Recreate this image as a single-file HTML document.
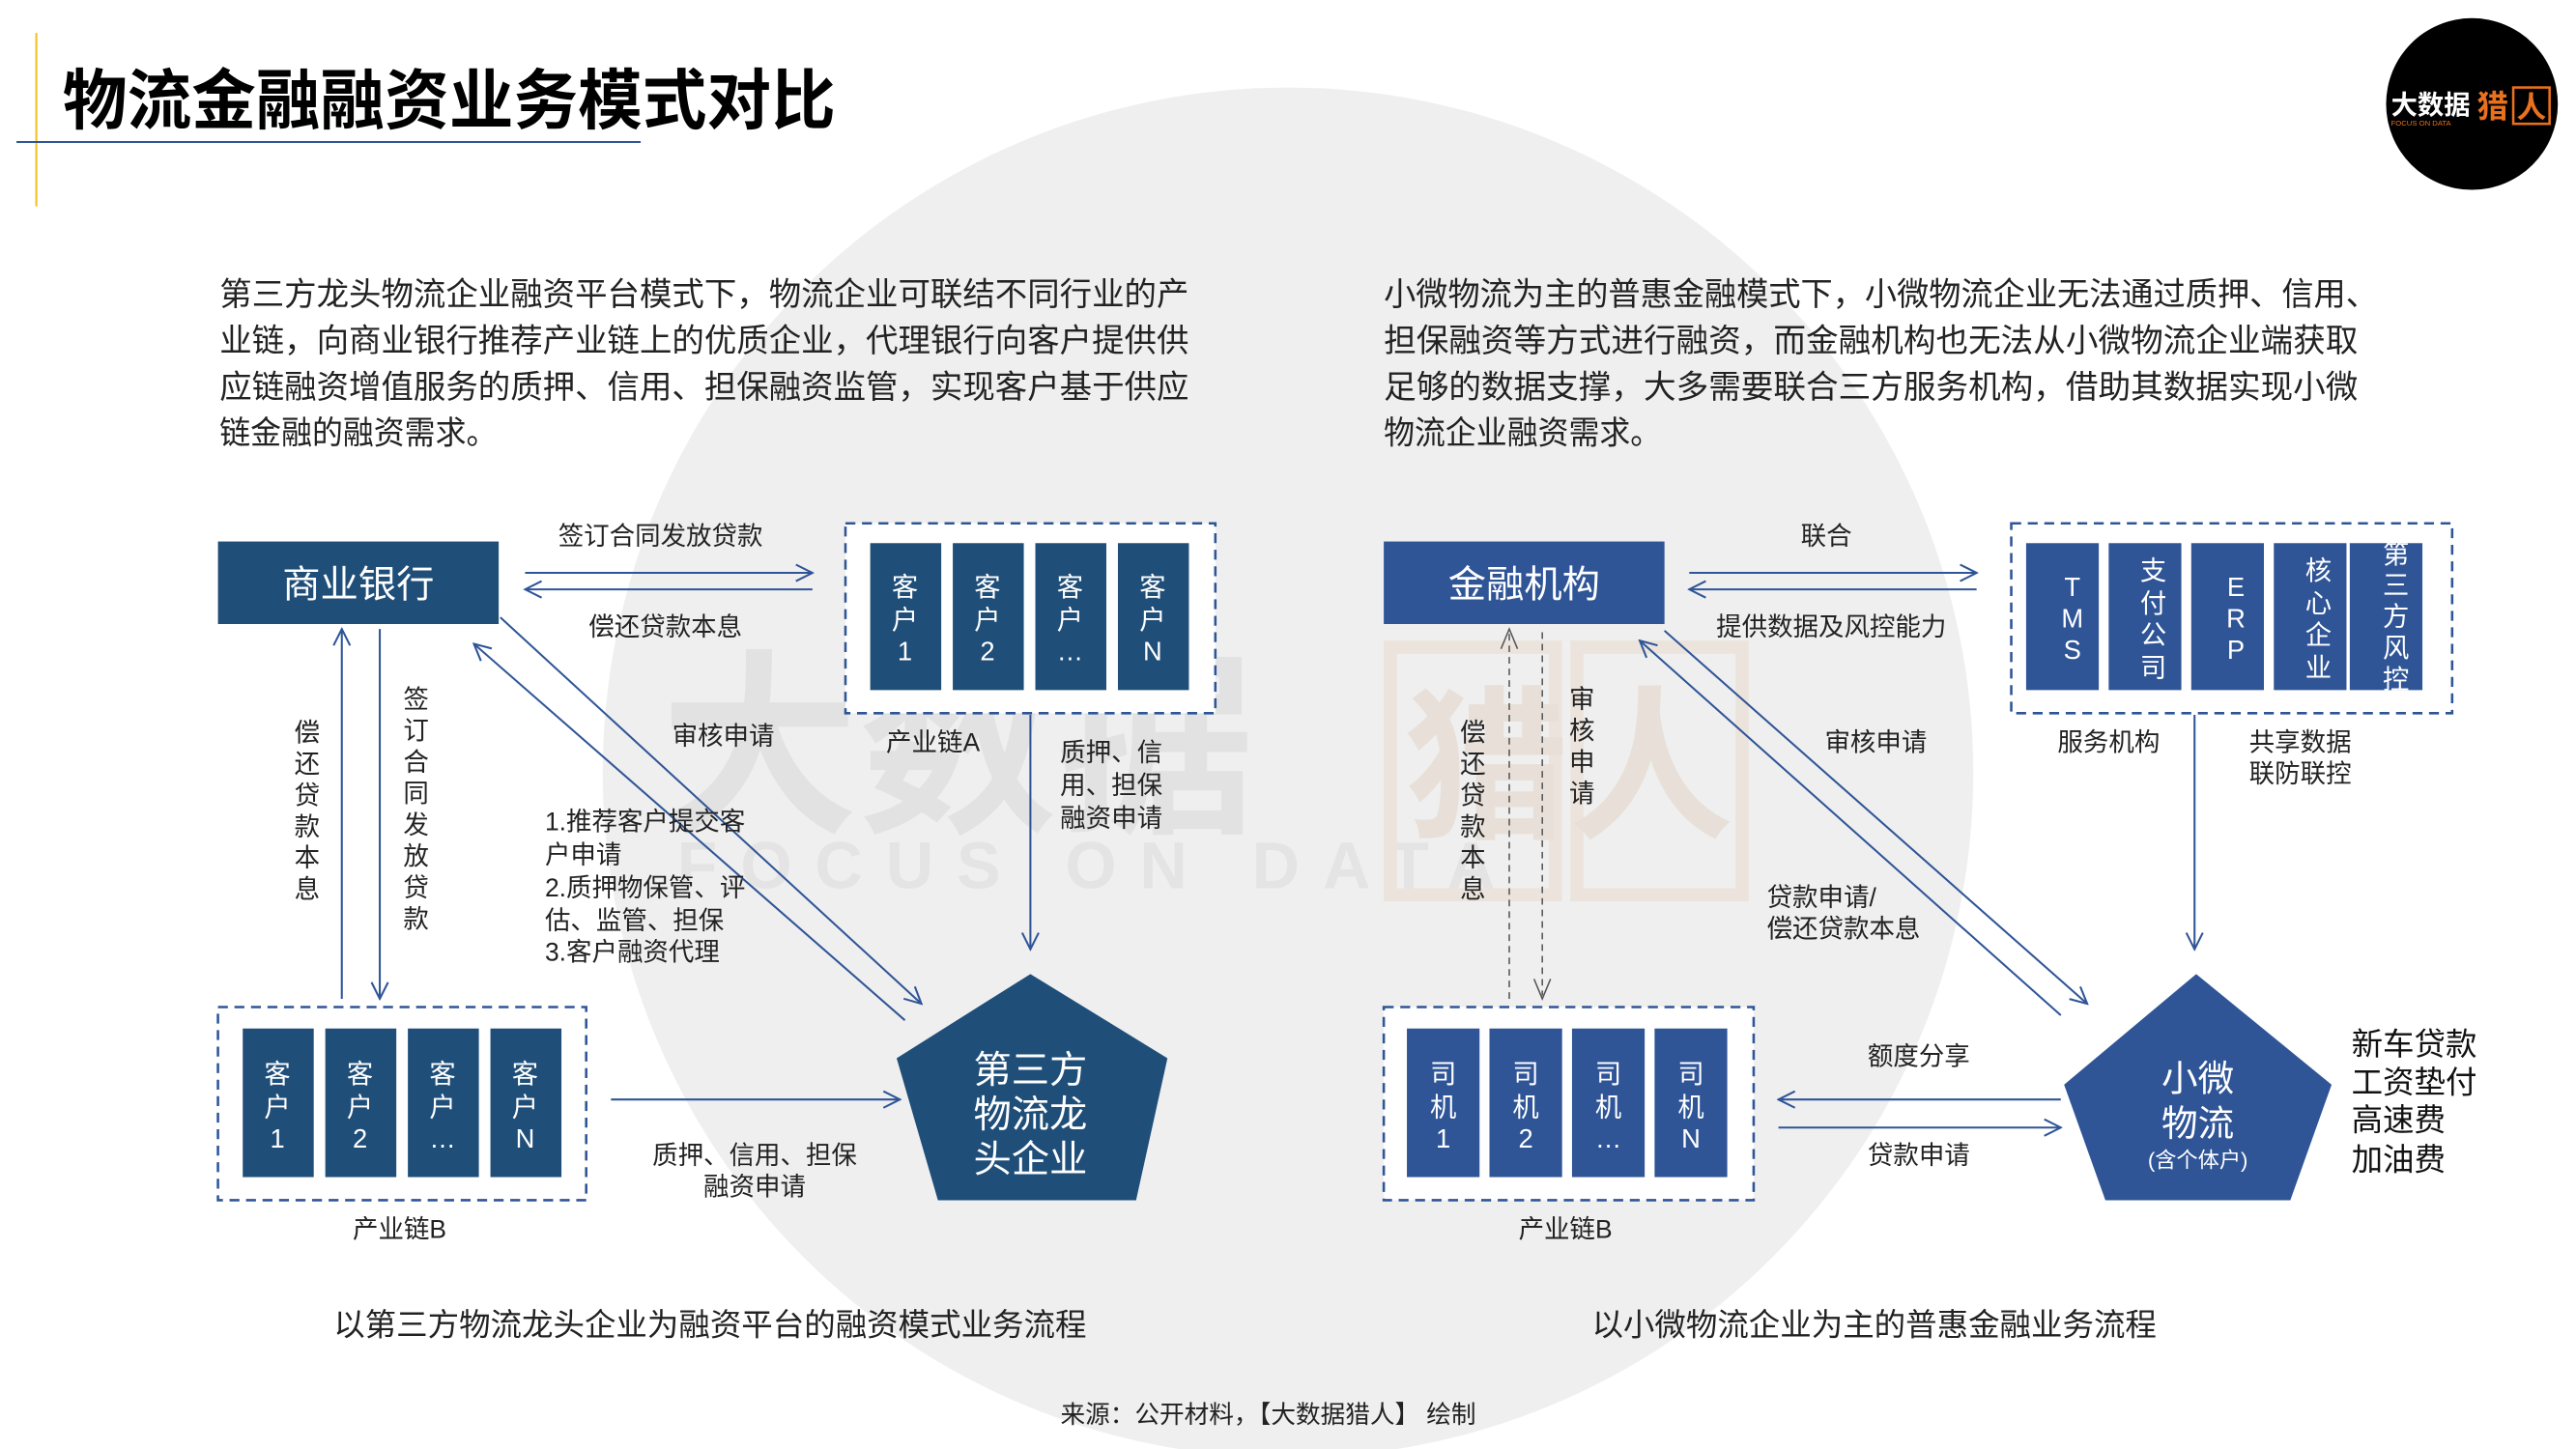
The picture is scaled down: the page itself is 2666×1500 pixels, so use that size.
<!DOCTYPE html>
<html><head><meta charset="utf-8"><style>
html,body{margin:0;padding:0;background:#fff;}
svg{display:block;}
text{font-family:"Liberation Sans","Noto Sans CJK SC",sans-serif;}
</style></head><body>
<svg width="2666" height="1500" viewBox="0 0 1560 877.7" preserveAspectRatio="none" xmlns="http://www.w3.org/2000/svg">
<defs>
<marker id="a" viewBox="0 0 12 12" refX="11" refY="6" markerWidth="12" markerHeight="12" markerUnits="userSpaceOnUse" orient="auto">
<path d="M1,1 L11,6 L1,11" fill="none" stroke="#2f5597" stroke-width="1.2"/></marker>
</defs>
<rect width="1560" height="878" fill="#fff"/>
<circle cx="780" cy="468" r="415" fill="#efefef"/>
<!-- watermark -->
<text x="400" y="495" font-size="120" font-weight="bold" fill="#e2e2e2">大数据</text>
<text x="410" y="538" font-size="40" font-weight="bold" fill="#e4e4e4" letter-spacing="14">FOCUS ON DATA</text>
<rect x="842" y="392" width="100" height="150" fill="none" stroke="#ece4dc" stroke-width="8"/>
<rect x="955" y="392" width="100" height="150" fill="none" stroke="#ece4dc" stroke-width="8"/>
<text x="850" y="500" font-size="100" font-weight="bold" fill="#e8e0d8">猎人</text>

<!-- title -->
<line x1="22" y1="20" x2="22" y2="125" stroke="#f0c020" stroke-width="1.2"/>
<line x1="10" y1="86" x2="388" y2="86" stroke="#2f5597" stroke-width="1.2"/>
<text x="38" y="75" font-size="40" font-weight="bold" fill="#000" textLength="468" lengthAdjust="spacingAndGlyphs">物流金融融资业务模式对比</text>

<!-- logo -->
<circle cx="1497" cy="63" r="52" fill="#000"/>
<text x="1448" y="69" font-size="16" font-weight="bold" fill="#fff">大数据</text>
<text x="1500" y="71" font-size="19" font-weight="bold" fill="#e8711e">猎</text>
<rect x="1522" y="53" width="22" height="22" fill="none" stroke="#e8711e" stroke-width="1.5"/>
<text x="1524" y="71" font-size="18" font-weight="bold" fill="#e8711e">人</text>
<text x="1448" y="76" font-size="4.5" fill="#e8711e">FOCUS ON DATA</text>

<!-- paragraphs -->
<g font-size="19.5" fill="#222">
<text x="133" y="185" textLength="587" lengthAdjust="spacingAndGlyphs">第三方龙头物流企业融资平台模式下，物流企业可联结不同行业的产</text>
<text x="133" y="213" textLength="587" lengthAdjust="spacingAndGlyphs">业链，向商业银行推荐产业链上的优质企业，代理银行向客户提供供</text>
<text x="133" y="241" textLength="587" lengthAdjust="spacingAndGlyphs">应链融资增值服务的质押、信用、担保融资监管，实现客户基于供应</text>
<text x="133" y="269" textLength="168" lengthAdjust="spacingAndGlyphs">链金融的融资需求。</text>
<text x="838" y="185" textLength="602" lengthAdjust="spacingAndGlyphs">小微物流为主的普惠金融模式下，小微物流企业无法通过质押、信用、</text>
<text x="838" y="213" textLength="590" lengthAdjust="spacingAndGlyphs">担保融资等方式进行融资，而金融机构也无法从小微物流企业端获取</text>
<text x="838" y="241" textLength="590" lengthAdjust="spacingAndGlyphs">足够的数据支撑，大多需要联合三方服务机构，借助其数据实现小微</text>
<text x="838" y="269" textLength="168" lengthAdjust="spacingAndGlyphs">物流企业融资需求。</text>
</g>

<!-- ===== LEFT DIAGRAM ===== -->
<rect x="132" y="328" width="170" height="50" fill="#1f4e79"/>
<text x="217" y="362" font-size="23" fill="#fff" text-anchor="middle">商业银行</text>
<g stroke="#2f5597" stroke-width="1.2" fill="none" marker-end="url(#a)">
<line x1="318" y1="347" x2="492" y2="347"/>
<line x1="492" y1="357" x2="318" y2="357"/>
<line x1="207" y1="605" x2="207" y2="381"/>
<line x1="230" y1="381" x2="230" y2="605"/>
<line x1="303" y1="374" x2="558" y2="608"/>
<line x1="548" y1="618" x2="287" y2="390"/>
<line x1="624" y1="433" x2="624" y2="575"/>
<line x1="370" y1="666" x2="545" y2="666"/>
</g>
<g font-size="15.5" fill="#222">
<text x="400" y="330" text-anchor="middle">签订合同发放贷款</text>
<text x="403" y="385" text-anchor="middle">偿还贷款本息</text>
<text x="438" y="451" text-anchor="middle">审核申请</text>
<text x="565" y="455" text-anchor="middle">产业链A</text>
<text x="642" y="461">质押、信</text>
<text x="642" y="481">用、担保</text>
<text x="642" y="501">融资申请</text>
<text x="330" y="503">1.推荐客户提交客</text>
<text x="330" y="523">户申请</text>
<text x="330" y="543">2.质押物保管、评</text>
<text x="330" y="563">估、监管、担保</text>
<text x="330" y="582">3.客户融资代理</text>
<text x="457" y="705" text-anchor="middle">质押、信用、担保</text>
<text x="457" y="724" text-anchor="middle">融资申请</text>
<text x="242" y="750" text-anchor="middle">产业链B</text>
</g>
<g font-size="15.5" fill="#222" text-anchor="middle">
<text x="186" y="449">偿</text><text x="186" y="468">还</text><text x="186" y="487">贷</text><text x="186" y="506">款</text><text x="186" y="525">本</text><text x="186" y="544">息</text>
<text x="252" y="429">签</text><text x="252" y="448">订</text><text x="252" y="467">合</text><text x="252" y="486">同</text><text x="252" y="505">发</text><text x="252" y="524">放</text><text x="252" y="543">贷</text><text x="252" y="562">款</text>
</g>
<!-- chain A -->
<rect x="512" y="317" width="224" height="115" fill="#fff" stroke="#2f5597" stroke-width="1.5" stroke-dasharray="6,4"/>
<g fill="#1f4e79">
<rect x="527" y="329" width="43" height="89"/><rect x="577" y="329" width="43" height="89"/><rect x="627" y="329" width="43" height="89"/><rect x="677" y="329" width="43" height="89"/>
</g>
<g font-size="16" fill="#fff" text-anchor="middle">
<text x="548" y="361">客</text><text x="548" y="381">户</text><text x="548" y="400">1</text>
<text x="598" y="361">客</text><text x="598" y="381">户</text><text x="598" y="400">2</text>
<text x="648" y="361">客</text><text x="648" y="381">户</text><text x="648" y="400">…</text>
<text x="698" y="361">客</text><text x="698" y="381">户</text><text x="698" y="400">N</text>
</g>
<!-- chain B -->
<rect x="132" y="610" width="223" height="117" fill="#fff" stroke="#2f5597" stroke-width="1.5" stroke-dasharray="6,4"/>
<g fill="#1f4e79">
<rect x="147" y="623" width="43" height="90"/><rect x="197" y="623" width="43" height="90"/><rect x="247" y="623" width="43" height="90"/><rect x="297" y="623" width="43" height="90"/>
</g>
<g font-size="16" fill="#fff" text-anchor="middle">
<text x="168" y="656">客</text><text x="168" y="676">户</text><text x="168" y="695">1</text>
<text x="218" y="656">客</text><text x="218" y="676">户</text><text x="218" y="695">2</text>
<text x="268" y="656">客</text><text x="268" y="676">户</text><text x="268" y="695">…</text>
<text x="318" y="656">客</text><text x="318" y="676">户</text><text x="318" y="695">N</text>
</g>
<polygon points="624,590 707,641 688,727 568,727 543,641" fill="#1f4e79"/>
<g font-size="23" fill="#fff" text-anchor="middle">
<text x="624" y="656">第三方</text><text x="624" y="683">物流龙</text><text x="624" y="710">头企业</text>
</g>
<text x="430" y="809" font-size="19" fill="#222" text-anchor="middle">以第三方物流龙头企业为融资平台的融资模式业务流程</text>

<!-- ===== RIGHT DIAGRAM ===== -->
<rect x="838" y="328" width="170" height="50" fill="#2f5597"/>
<text x="923" y="362" font-size="23" fill="#fff" text-anchor="middle">金融机构</text>
<g stroke="#2f5597" stroke-width="1.2" fill="none" marker-end="url(#a)">
<line x1="1023" y1="347" x2="1197" y2="347"/>
<line x1="1197" y1="357" x2="1023" y2="357"/>
<line x1="1008" y1="382" x2="1264" y2="608"/>
<line x1="1248" y1="615" x2="993" y2="388"/>
<line x1="1329" y1="433" x2="1329" y2="575"/>
<line x1="1248" y1="666" x2="1077" y2="666"/>
<line x1="1077" y1="683" x2="1248" y2="683"/>
</g>
<g stroke="#555" stroke-width="0.9" fill="none" stroke-dasharray="4,3">
<line x1="914" y1="605" x2="914" y2="383"/>
<line x1="934" y1="383" x2="934" y2="603"/>
</g>
<g stroke="#555" stroke-width="0.9" fill="none">
<path d="M909,393 L914,381 L919,393"/>
<path d="M929,593 L934,605 L939,593"/>
</g>
<g font-size="15.5" fill="#222">
<text x="1106" y="330" text-anchor="middle">联合</text>
<text x="1109" y="385" text-anchor="middle">提供数据及风控能力</text>
<text x="1136" y="455" text-anchor="middle">审核申请</text>
<text x="1277" y="455" text-anchor="middle">服务机构</text>
<text x="1393" y="455" text-anchor="middle">共享数据</text>
<text x="1393" y="474" text-anchor="middle">联防联控</text>
<text x="1070" y="549">贷款申请/</text>
<text x="1070" y="568">偿还贷款本息</text>
<text x="1162" y="645" text-anchor="middle">额度分享</text>
<text x="1162" y="705" text-anchor="middle">贷款申请</text>
<text x="948" y="750" text-anchor="middle">产业链B</text>
</g>
<g font-size="15.5" fill="#222" text-anchor="middle">
<text x="892" y="449">偿</text><text x="892" y="468">还</text><text x="892" y="487">贷</text><text x="892" y="506">款</text><text x="892" y="525">本</text><text x="892" y="544">息</text>
<text x="958" y="429">审</text><text x="958" y="448">核</text><text x="958" y="467">申</text><text x="958" y="486">请</text>
</g>
<!-- service box -->
<rect x="1218" y="317" width="267" height="115" fill="#fff" stroke="#2f5597" stroke-width="1.5" stroke-dasharray="6,4"/>
<g fill="#2f5597">
<rect x="1227" y="329" width="44" height="89"/><rect x="1277" y="329" width="44" height="89"/><rect x="1327" y="329" width="44" height="89"/><rect x="1377" y="329" width="44" height="89"/><rect x="1423" y="329" width="44" height="89"/>
</g>
<g font-size="16" fill="#fff" text-anchor="middle">
<text x="1255" y="361">T</text><text x="1255" y="380">M</text><text x="1255" y="399">S</text>
<text x="1304" y="351">支</text><text x="1304" y="371">付</text><text x="1304" y="390">公</text><text x="1304" y="410">司</text>
<text x="1354" y="361">E</text><text x="1354" y="380">R</text><text x="1354" y="399">P</text>
<text x="1404" y="351">核</text><text x="1404" y="371">心</text><text x="1404" y="390">企</text><text x="1404" y="410">业</text>
<text x="1451" y="341">第</text><text x="1451" y="360">三</text><text x="1451" y="379">方</text><text x="1451" y="398">风</text><text x="1451" y="417">控</text>
</g>
<!-- drivers -->
<rect x="838" y="610" width="224" height="117" fill="#fff" stroke="#2f5597" stroke-width="1.5" stroke-dasharray="6,4"/>
<g fill="#2f5597">
<rect x="852" y="623" width="44" height="90"/><rect x="902" y="623" width="44" height="90"/><rect x="952" y="623" width="44" height="90"/><rect x="1002" y="623" width="44" height="90"/>
</g>
<g font-size="16" fill="#fff" text-anchor="middle">
<text x="874" y="656">司</text><text x="874" y="676">机</text><text x="874" y="695">1</text>
<text x="924" y="656">司</text><text x="924" y="676">机</text><text x="924" y="695">2</text>
<text x="974" y="656">司</text><text x="974" y="676">机</text><text x="974" y="695">…</text>
<text x="1024" y="656">司</text><text x="1024" y="676">机</text><text x="1024" y="695">N</text>
</g>
<polygon points="1330,590 1412,657 1387,727 1275,727 1250,657" fill="#2f5597"/>
<g fill="#fff" text-anchor="middle">
<text x="1331" y="661" font-size="22">小微</text>
<text x="1331" y="688" font-size="22">物流</text>
<text x="1331" y="707" font-size="13">(含个体户)</text>
</g>
<g font-size="19" fill="#111">
<text x="1424" y="639">新车贷款</text><text x="1424" y="662">工资垫付</text><text x="1424" y="685">高速费</text><text x="1424" y="709">加油费</text>
</g>
<text x="1135" y="809" font-size="19" fill="#222" text-anchor="middle">以小微物流企业为主的普惠金融业务流程</text>
<text x="768" y="862" font-size="15" fill="#222" text-anchor="middle">来源：公开材料，【大数据猎人】 绘制</text>
</svg>
</body></html>
